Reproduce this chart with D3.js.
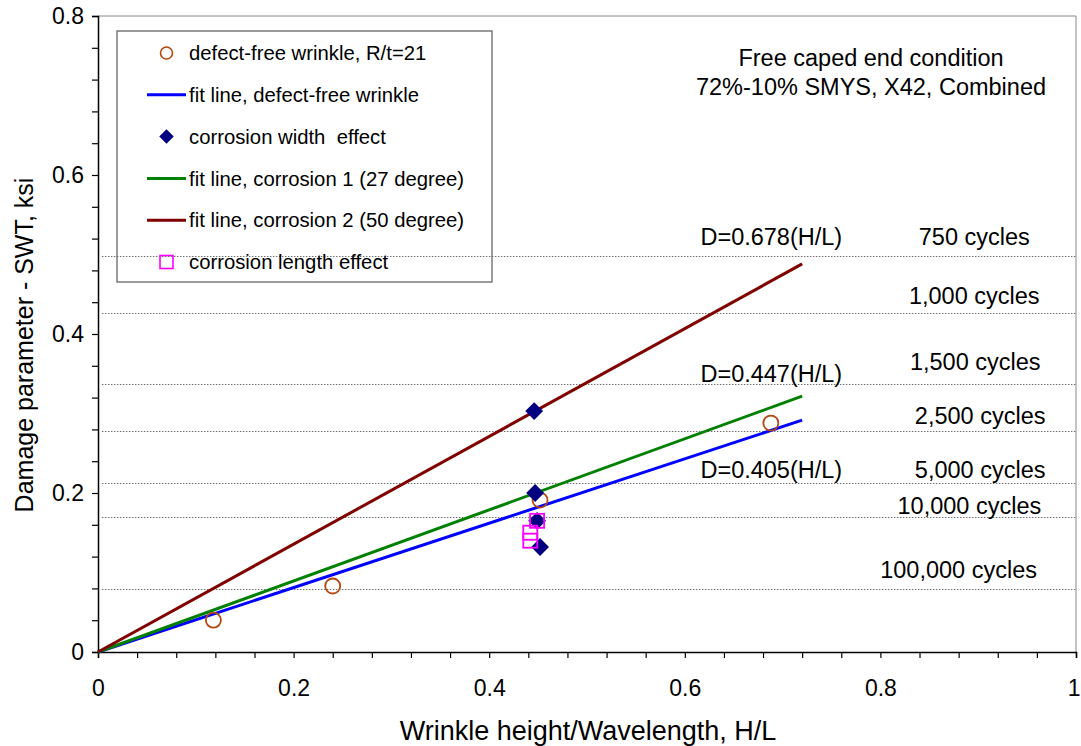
<!DOCTYPE html>
<html>
<head>
<meta charset="utf-8">
<script src="https://cdn.jsdelivr.net/npm/d3@7"></script>
<style>
    body { margin: 0; background: white; }
    svg text { font-family: "Liberation Sans", Arial, sans-serif; fill: #000; }
</style>
</head>
<body>
<svg id="chart"></svg>
<script>
'use strict';

// defect-free wrinkle tests (R/t=21)
var defectFreeX = [0.118, 0.240, 0.452, 0.688];
var defectFreeY = [0.040, 0.083, 0.191, 0.288];

// corrosion width effect
var widthEffectX = [0.446, 0.447, 0.449, 0.452];
var widthEffectY = [0.303, 0.200, 0.165, 0.132];

// corrosion length effect
var lengthEffectX = [0.449, 0.442, 0.442];
var lengthEffectY = [0.165, 0.150, 0.140];

// fit lines D = k * (H/L)
var fitNames = ["fit line, defect-free wrinkle", "fit line, corrosion 1 (27 degree)", "fit line, corrosion 2 (50 degree)"];
var fitSlopes = [0.405, 0.447, 0.678];
var fitRange = [0, 0.72];
var fitLabelX = [0.616, 0.616, 0.616];
var fitLabelY = [0.229, 0.350, 0.522];

// fatigue life levels
var cycleNames = ["750 cycles", "1,000 cycles", "1,500 cycles", "2,500 cycles", "5,000 cycles", "10,000 cycles", "100,000 cycles"];
var cycleLevels = [0.498, 0.427, 0.337, 0.278, 0.213, 0.170, 0.079];
var cycleLabelX = [0.896, 0.896, 0.897, 0.902, 0.902, 0.891, 0.880];
var cycleLabelY = [0.522, 0.448, 0.365, 0.297, 0.229, 0.184, 0.103];

var xTicks = [0, 0.2, 0.4, 0.6, 0.8, 1];
var yTicks = [0, 0.2, 0.4, 0.6, 0.8];

var colors = {
    circle: "#b5470f",
    fit: ["#0000ff", "#008000", "#800000"],
    diamond: "#000080",
    square: "#ff00ff",
    level: "#707070"
};

var width = 1081, height = 746;
var margin = {top: 16, right: 5, bottom: 94, left: 98};

var svg = d3.select("#chart")
    .attr("width", width)
    .attr("height", height);

var x = d3.scaleLinear().domain([0, 1]).range([margin.left, width - margin.right]);
var y = d3.scaleLinear().domain([0, 0.8]).range([height - margin.bottom, margin.top]);

// plot area border (top / right in grey)
svg.append("path")
    .attr("d", "M" + x(0) + "," + y(0.8) + "H" + x(1) + "V" + y(0))
    .attr("fill", "none")
    .attr("stroke", "#888")
    .attr("stroke-width", 1);

// horizontal cycle levels
svg.append("g").selectAll("line")
    .data(cycleLevels)
    .join("line")
    .attr("x1", x(0.004))
    .attr("x2", x(1))
    .attr("y1", d => Math.round(y(d)) + 0.5)
    .attr("y2", d => Math.round(y(d)) + 0.5)
    .attr("stroke", colors.level)
    .attr("stroke-width", 1)
    .attr("stroke-dasharray", "1.5,1.5");

svg.append("g").selectAll("text")
    .data(cycleNames)
    .join("text")
    .attr("x", (d, i) => x(cycleLabelX[i]))
    .attr("y", (d, i) => y(cycleLabelY[i]))
    .attr("text-anchor", "middle")
    .attr("dy", "0.35em")
    .style("font-size", "23.5px")
    .text(d => d);

// axes
var xAxis = d3.axisBottom(x)
    .tickValues(d3.range(0, 1.0001, 0.04))
    .tickSize(6)
    .tickFormat(d => xTicks.some(t => Math.abs(t - d) < 1e-6) ? d3.format("")(+d.toFixed(1)) : "");

var yAxis = d3.axisLeft(y)
    .tickValues(d3.range(0, 0.8001, 0.04))
    .tickSize(6)
    .tickFormat(d => yTicks.some(t => Math.abs(t - d) < 1e-6) ? d3.format("")(+d.toFixed(1)) : "");

var gx = svg.append("g")
    .attr("transform", "translate(0," + y(0) + ")")
    .call(xAxis);
gx.selectAll("text").attr("dy", "1.5em").style("font-size", "23px");
// keep the last label inside the picture
gx.selectAll(".tick:last-of-type text").attr("dx", "-0.1em");

var gy = svg.append("g")
    .attr("transform", "translate(" + x(0) + ",0)")
    .call(yAxis);
gy.selectAll("text").attr("x", -14).style("font-size", "23px");

[gx, gy].forEach(function(g) {
    g.select(".domain").attr("stroke", "#000").attr("stroke-width", 1.5);
    g.selectAll(".tick line").attr("stroke", "#000").attr("stroke-width", 1.2);
    g.selectAll("text").attr("font-family", null).attr("font-size", null);
});

svg.append("text")
    .attr("x", (x(0) + x(1)) / 2 + 1)
    .attr("y", 740)
    .attr("text-anchor", "middle")
    .style("font-size", "27px")
    .text("Wrinkle height/Wavelength, H/L");

svg.append("text")
    .attr("transform", "translate(33," + 345 + ") rotate(-90)")
    .attr("text-anchor", "middle")
    .style("font-size", "25px")
    .text("Damage parameter - SWT, ksi");

// fit lines
var line = d3.line().x(d => x(d[0])).y(d => y(d[1]));

svg.append("g").selectAll("path")
    .data(fitSlopes)
    .join("path")
    .attr("d", k => line(fitRange.map(h => [h, k * h])))
    .attr("fill", "none")
    .attr("stroke", (k, i) => colors.fit[i])
    .attr("stroke-width", 3);

svg.append("g").selectAll("text")
    .data(fitSlopes)
    .join("text")
    .attr("x", (k, i) => x(fitLabelX[i]))
    .attr("y", (k, i) => y(fitLabelY[i]))
    .attr("dy", "0.35em")
    .style("font-size", "23.5px")
    .text(k => "D=" + k.toFixed(3) + "(H/L)");

// markers
var diamond = d3.symbol().type(d3.symbolSquare).size(160);
var diamondSmall = d3.symbol().type(d3.symbolSquare).size(105);

svg.append("g").selectAll("circle")
    .data(defectFreeX)
    .join("circle")
    .attr("cx", d => x(d))
    .attr("cy", (d, i) => y(defectFreeY[i]))
    .attr("r", 7.5)
    .attr("fill", "none")
    .attr("stroke", colors.circle)
    .attr("stroke-width", 1.8);

svg.append("g").selectAll("path")
    .data(widthEffectX)
    .join("path")
    .attr("d", diamond)
    .attr("transform", (d, i) => "translate(" + x(d) + "," + y(widthEffectY[i]) + ") rotate(45)")
    .attr("fill", colors.diamond);

svg.append("g").selectAll("rect")
    .data(lengthEffectX)
    .join("rect")
    .attr("x", d => x(d) - 7)
    .attr("y", (d, i) => y(lengthEffectY[i]) - 7)
    .attr("width", 14)
    .attr("height", 14)
    .attr("fill", "none")
    .attr("stroke", colors.square)
    .attr("stroke-width", 1.8);

// title block
var note = svg.append("text")
    .attr("text-anchor", "middle")
    .style("font-size", "23.5px");
note.append("tspan").attr("x", 871).attr("y", 66).text("Free caped end condition");
note.append("tspan").attr("x", 871).attr("y", 95).text("72%-10% SMYS, X42, Combined");

// legend
var legendItems = [
    {name: "defect-free wrinkle, R/t=21", kind: "circle"},
    {name: fitNames[0], kind: "line", color: colors.fit[0]},
    {name: "corrosion width  effect", kind: "diamond"},
    {name: fitNames[1], kind: "line", color: colors.fit[1]},
    {name: fitNames[2], kind: "line", color: colors.fit[2]},
    {name: "corrosion length effect", kind: "square"}
];

var legend = svg.append("g").attr("transform", "translate(117,31)");
legend.append("rect")
    .attr("width", 375)
    .attr("height", 251)
    .attr("fill", "none")
    .attr("stroke", "#666")
    .attr("stroke-width", 1.3);

var rows = legend.selectAll("g")
    .data(legendItems)
    .join("g")
    .attr("transform", (d, i) => "translate(0," + (22 + i * 41.8) + ")");

rows.each(function(d) {
    var g = d3.select(this);
    if (d.kind === "line") {
        g.append("line").attr("x1", 30).attr("x2", 69)
            .attr("stroke", d.color).attr("stroke-width", 3);
    } else if (d.kind === "circle") {
        g.append("circle").attr("cx", 49.5).attr("r", 6)
            .attr("fill", "none").attr("stroke", colors.circle).attr("stroke-width", 1.6);
    } else if (d.kind === "diamond") {
        g.append("path").attr("d", diamondSmall)
            .attr("transform", "translate(49.5,0) rotate(45)")
            .attr("fill", colors.diamond);
    } else {
        g.append("rect").attr("x", 43).attr("y", -6.5).attr("width", 13).attr("height", 13)
            .attr("fill", "none").attr("stroke", colors.square).attr("stroke-width", 1.6);
    }
    g.append("text")
        .attr("x", 72)
        .attr("dy", "0.35em")
        .style("font-size", "20.3px")
        .attr("xml:space", "preserve")
        .text(d.name);
});
</script>
</body>
</html>
